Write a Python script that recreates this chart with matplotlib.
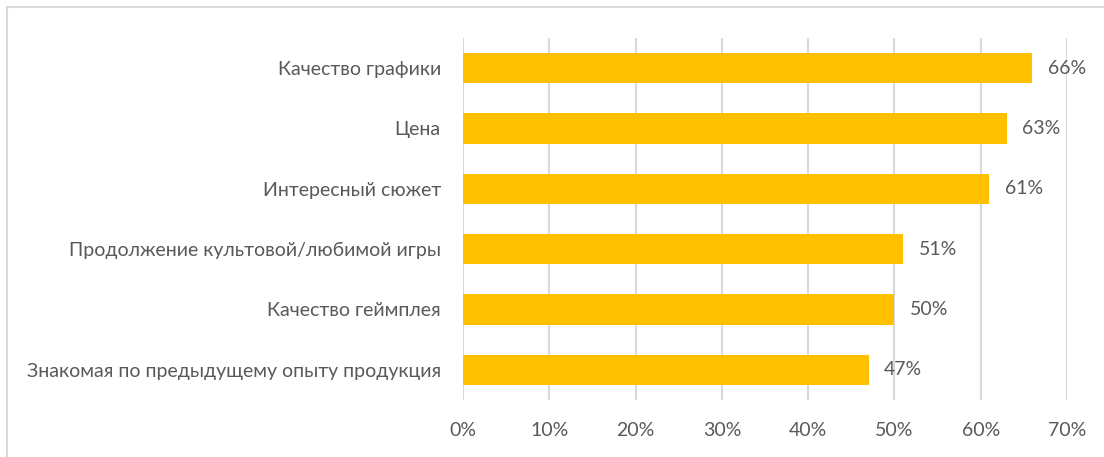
import matplotlib.pyplot as plt
from matplotlib.lines import Line2D
from matplotlib.ticker import FuncFormatter

# factors, top to bottom
labels = ["Качество графики", "Цена", "Интересный сюжет",
          "Продолжение культовой/любимой игры", "Качество геймплея",
          "Знакомая по предыдущему опыту продукция"]
values = [66, 63, 61, 51, 50, 47]
xticks = [0, 10, 20, 30, 40, 50, 60, 70]

plt.rcParams['font.family'] = ['Lato', 'DejaVu Sans']
txt = "#595959"
fs = 14

fig = plt.figure(figsize=(11.04, 4.57), dpi=100)
ax = fig.add_axes([463/1104, 1 - 400/457, (1067 - 463)/1104, (400 - 38)/457])

ypos = list(range(len(labels)))
ax.barh(ypos, values, height=0.5, color="#FFC000", zorder=3)
for y, v in zip(ypos, values):
    ax.text(v + 1.8, y, f"{v}%", va="center", ha="left", fontsize=fs, color=txt)

ax.set_xlim(0, 70)
ax.set_ylim(len(labels) - 0.5, -0.5)
ax.set_yticks(ypos)
ax.set_yticklabels(labels, fontsize=fs, color=txt)
ax.set_xticks(xticks)
ax.xaxis.set_major_formatter(FuncFormatter(lambda x, p: f"{x:.0f}%"))
ax.tick_params(axis="x", labelsize=fs, labelcolor=txt, length=0, pad=16)
ax.tick_params(axis="y", length=0, pad=16)
ax.grid(axis="x", color="#D9D9D9", linewidth=1.5, zorder=0)
for s in ax.spines.values():
    s.set_visible(False)

# chart area frame (left and top edges visible)
fig.add_artist(Line2D([7/1104, 7/1104], [0, 1 - 7/457], color="#D9D9D9", lw=1.5, transform=fig.transFigure))
fig.add_artist(Line2D([7/1104, 1], [1 - 7/457, 1 - 7/457], color="#D9D9D9", lw=1.5, transform=fig.transFigure))

fig.savefig("out.png", dpi=100)
